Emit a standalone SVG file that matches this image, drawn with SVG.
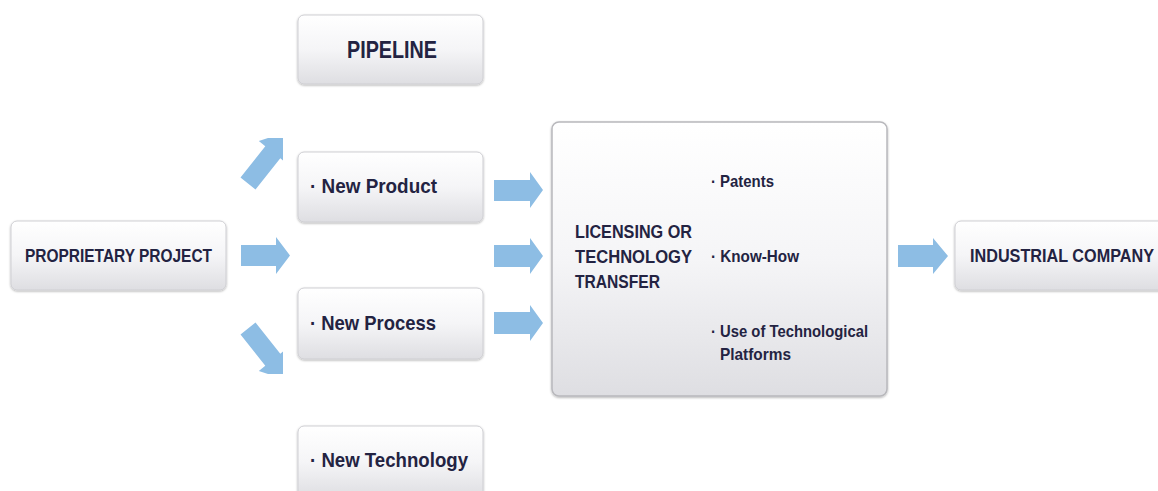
<svg xmlns="http://www.w3.org/2000/svg" width="1158" height="491" viewBox="0 0 1158 491">
<defs>
<linearGradient id="g" x1="0" y1="0" x2="0" y2="1">
<stop offset="0" stop-color="#ffffff"/>
<stop offset="0.5" stop-color="#f5f5f7"/>
<stop offset="1" stop-color="#dedee2"/>
</linearGradient>
<filter id="sh" x="-10%" y="-10%" width="120%" height="130%">
<feDropShadow dx="0" dy="1" stdDeviation="1.2" flood-color="#000" flood-opacity="0.3"/>
</filter>
<clipPath id="cu"><rect x="230" y="138" width="53" height="70"/></clipPath>
<clipPath id="cd"><rect x="230" y="304" width="53" height="70"/></clipPath>
<style>
.box{fill:url(#g);stroke:#cfcfd3;stroke-width:1;filter:url(#sh)}
.big{fill:url(#g);stroke:#b8b8bc;stroke-width:1.5;filter:url(#sh)}
.t{font-family:"Liberation Sans","DejaVu Sans",sans-serif;font-weight:bold;fill:#232342}
.arr{fill:#8dbde4}
</style>
</defs>

<g id="connectors">
<polygon class="arr" clip-path="url(#cu)" points="240.5,177.5 265.3,146.3 258.8,141.1 290.2,130.5 286.8,163.5 280.3,158.3 255.5,189.5"/>
<polygon class="arr" points="241,245 276,245 276,237 290,255.5 276,274 276,266 241,266"/>
<polygon class="arr" clip-path="url(#cd)" points="240.5,334.5 265.3,365.7 258.8,370.9 290.2,381.5 286.8,348.5 280.3,353.7 255.5,322.5"/>
<polygon class="arr" points="494,180 530,180 530,172 543,190 530,208 530,201 494,201"/>
<polygon class="arr" points="494,245 530,245 530,238 543,256 530,274 530,267 494,267"/>
<polygon class="arr" points="494,312 530,312 530,305 543,323 530,341 530,334 494,334"/>
<polygon class="arr" points="898,245 933,245 933,238 948,256 933,274 933,267 898,267"/>
</g>

<g id="proprietary">
<rect class="box" x="11" y="221" width="215" height="69" rx="6"/>
<text class="t" x="25" y="262" font-size="18" textLength="187" lengthAdjust="spacingAndGlyphs">PROPRIETARY PROJECT</text>
</g>

<g id="pipeline">
<rect class="box" x="298" y="15" width="185" height="69" rx="6"/>
<text class="t" x="347" y="58" font-size="23" textLength="90" lengthAdjust="spacingAndGlyphs">PIPELINE</text>
</g>

<g id="new-product">
<rect class="box" x="298" y="152" width="185" height="70" rx="6"/>
<text class="t" x="310" y="193" font-size="21" textLength="127" lengthAdjust="spacingAndGlyphs">· New Product</text>
</g>

<g id="new-process">
<rect class="box" x="298" y="288" width="185" height="71" rx="6"/>
<text class="t" x="310" y="330" font-size="21" textLength="126" lengthAdjust="spacingAndGlyphs">· New Process</text>
</g>

<g id="new-technology">
<rect class="box" x="298" y="426" width="185" height="72" rx="6"/>
<text class="t" x="310" y="467" font-size="21" textLength="158" lengthAdjust="spacingAndGlyphs">· New Technology</text>
</g>

<g id="licensing">
<rect class="big" x="552" y="122" width="335" height="274" rx="7"/>
<text class="t" x="575" y="238" font-size="18" textLength="117" lengthAdjust="spacingAndGlyphs">LICENSING OR</text>
<text class="t" x="575" y="263" font-size="18" textLength="117" lengthAdjust="spacingAndGlyphs">TECHNOLOGY</text>
<text class="t" x="575" y="288" font-size="18" textLength="85" lengthAdjust="spacingAndGlyphs">TRANSFER</text>
<text class="t" x="711" y="187" font-size="17" textLength="63" lengthAdjust="spacingAndGlyphs">· Patents</text>
<text class="t" x="711" y="262" font-size="17" textLength="88" lengthAdjust="spacingAndGlyphs">· Know-How</text>
<text class="t" x="711" y="337" font-size="17" textLength="157" lengthAdjust="spacingAndGlyphs">· Use of Technological</text>
<text class="t" x="720" y="360" font-size="17" textLength="71" lengthAdjust="spacingAndGlyphs">Platforms</text>
</g>

<g id="industrial">
<rect class="box" x="955" y="221" width="215" height="69" rx="6"/>
<text class="t" x="970" y="262" font-size="18" textLength="184" lengthAdjust="spacingAndGlyphs">INDUSTRIAL COMPANY</text>
</g>
</svg>
